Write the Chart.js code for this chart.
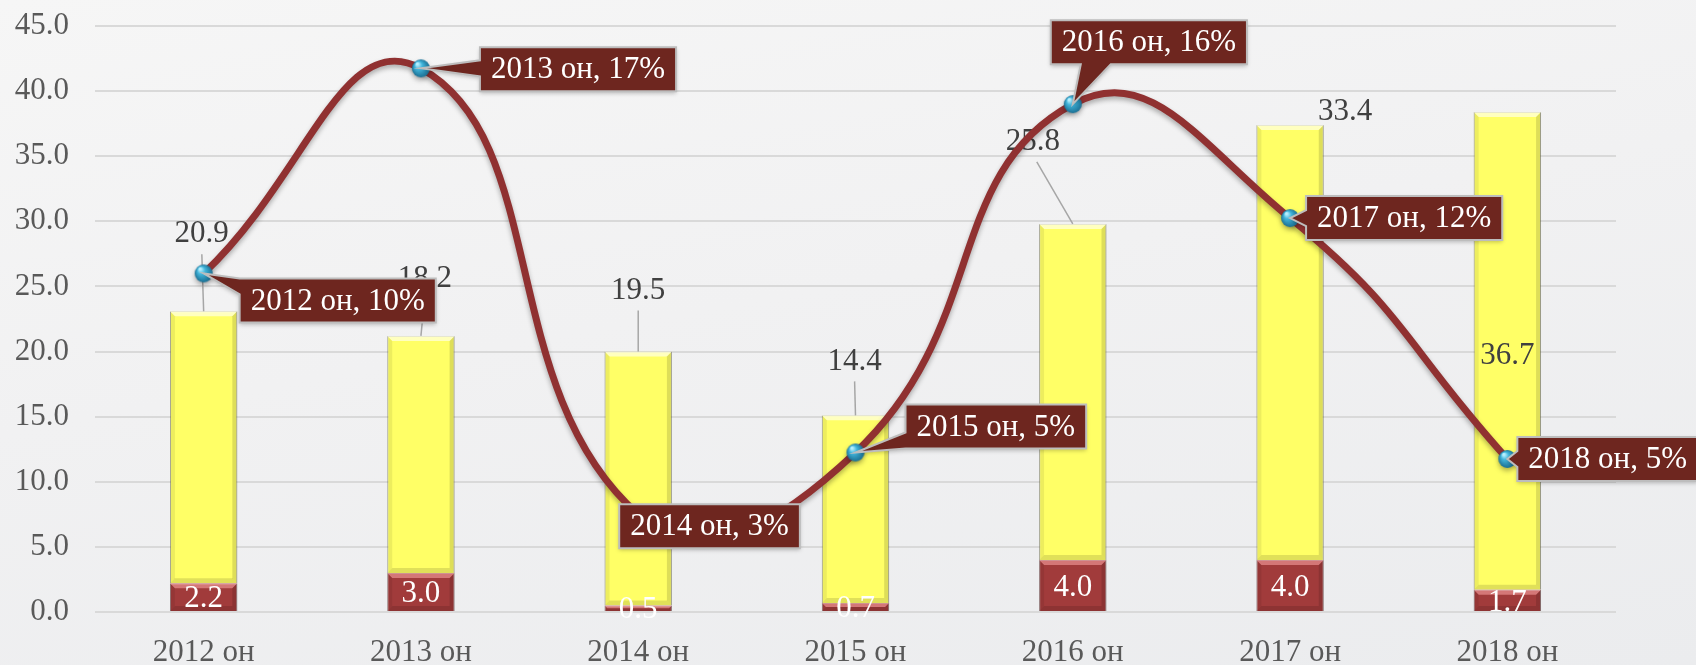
<!DOCTYPE html>
<html>
<head>
<meta charset="utf-8">
<script src="https://cdn.jsdelivr.net/npm/chart.js@4.4.0/dist/chart.umd.min.js"></script>
<style>
    html, body { margin: 0; padding: 0; }
    body {
        width: 1696px; height: 665px; overflow: hidden;
        background: linear-gradient(170deg, #f6f6f6 0%, #f1f1f2 45%, #ebecee 100%);
    }
    #wrap { position: relative; width: 1696px; height: 665px; }
</style>
</head>
<body>
<div id="wrap"><canvas id="chartCanvas" width="1696" height="665"></canvas></div>
<script>
// Data
const years = ['2012 он', '2013 он', '2014 он', '2015 он', '2016 он', '2017 он', '2018 он'];
const baseValues = [2.2, 3.0, 0.5, 0.7, 4.0, 4.0, 1.7];
const topValues = [20.9, 18.2, 19.5, 14.4, 25.8, 33.4, 36.7];
const growthPct = [10.4, 16.7, 3.0, 4.9, 15.6, 12.1, 4.7];
const yTicks = [0, 5, 10, 15, 20, 25, 30, 35, 40, 45];

// label placement (px), not data
const valueLabelOffsets = [[-2, -77], [4, -57], [0, -61], [-1, -54], [-40, -82], [55, -13], [0, 244]];
const calloutOffsets = [[36, 27], [59, 1], [-19, 12], [50, -26], [-22, -62], [16, 0], [10, 0]];

const FONT = "'Liberation Serif', 'Times New Roman', serif";
const FONT_SIZE = 31;

// blue sphere marker
function makeSphere(r) {
    const c = document.createElement('canvas');
    c.width = c.height = r * 2 + 2;
    const g = c.getContext('2d');
    const grad = g.createRadialGradient(r * 0.7, r * 0.6, 1, r + 1, r + 1, r);
    grad.addColorStop(0, '#b8f0ff');
    grad.addColorStop(0.35, '#43b6dc');
    grad.addColorStop(1, '#1a6f93');
    g.fillStyle = grad;
    g.beginPath();
    g.arc(r + 1, r + 1, r, 0, Math.PI * 2);
    g.fill();
    return c;
}

function bevel(ctx, bar, light) {
    const p = bar.getProps(['x', 'y', 'base', 'width'], true);
    const l = p.x - p.width / 2, r = p.x + p.width / 2;
    const t = Math.min(p.y, p.base), b = Math.max(p.y, p.base);
    const e = Math.min(5, (b - t) / 2);
    ctx.save();
    ctx.fillStyle = light;
    ctx.beginPath();
    ctx.moveTo(l, t); ctx.lineTo(r, t); ctx.lineTo(r - e, t + e); ctx.lineTo(l + e, t + e);
    ctx.closePath(); ctx.fill();
    ctx.fillStyle = 'rgba(0,0,0,0.07)';
    ctx.beginPath();
    ctx.moveTo(l, t); ctx.lineTo(l + e, t + e); ctx.lineTo(l + e, b - e); ctx.lineTo(l, b);
    ctx.closePath(); ctx.fill();
    ctx.fillStyle = 'rgba(0,0,0,0.13)';
    ctx.beginPath();
    ctx.moveTo(r, t); ctx.lineTo(r - e, t + e); ctx.lineTo(r - e, b - e); ctx.lineTo(r, b);
    ctx.closePath(); ctx.fill();
    ctx.fillStyle = 'rgba(0,0,0,0.12)';
    ctx.beginPath();
    ctx.moveTo(l, b); ctx.lineTo(l + e, b - e); ctx.lineTo(r - e, b - e); ctx.lineTo(r, b);
    ctx.closePath(); ctx.fill();
    ctx.restore();
}

function drawCallout(ctx, px, py, text, off) {
    ctx.font = FONT_SIZE + 'px ' + FONT;
    const w = ctx.measureText(text).width + 22, h = 44;
    const left = px + off[0], top = py + off[1] - h / 2;
    const right = left + w, bottom = top + h;
    ctx.beginPath();
    if (px < left) {
        const cy = Math.max(top + 8, Math.min(py, bottom - 8));
        ctx.moveTo(left, top); ctx.lineTo(right, top); ctx.lineTo(right, bottom); ctx.lineTo(left, bottom);
        ctx.lineTo(left, cy + 8); ctx.lineTo(px, py); ctx.lineTo(left, cy - 8);
    } else if (py > bottom) {
        const cx = Math.max(left + 12, Math.min(px + 20, right - 12));
        ctx.moveTo(left, top); ctx.lineTo(right, top); ctx.lineTo(right, bottom);
        ctx.lineTo(cx + 18, bottom); ctx.lineTo(px, py); ctx.lineTo(cx - 12, bottom); ctx.lineTo(left, bottom);
    } else {
        ctx.rect(left, top, w, h);
    }
    ctx.closePath();
    ctx.save();
    ctx.shadowColor = 'rgba(0,0,0,0.25)';
    ctx.shadowBlur = 4;
    ctx.shadowOffsetY = 2;
    ctx.fillStyle = '#6e261f';
    ctx.fill();
    ctx.restore();
    ctx.strokeStyle = '#bdbdbd';
    ctx.lineWidth = 2;
    ctx.stroke();
    ctx.fillStyle = '#ffffff';
    ctx.textAlign = 'center';
    ctx.textBaseline = 'middle';
    ctx.fillText(text, left + w / 2, top + h / 2 + 1);
}

const labelPlugin = {
    id: 'labels',
    beforeDatasetDraw(chart, args) {
        if (args.index === 0) {
            chart.ctx.save();
            chart.ctx.shadowColor = 'rgba(0,0,0,0.3)';
            chart.ctx.shadowBlur = 5;
            chart.ctx.shadowOffsetY = 3;
        }
    },
    afterDatasetDraw(chart, args) {
        const ctx = chart.ctx;
        if (args.index === 0) { ctx.restore(); return; }
        const meta = chart.getDatasetMeta(args.index);
        meta.data.forEach(bar => bevel(ctx, bar, args.index === 1 ? 'rgba(255,170,170,0.55)' : 'rgba(255,255,230,0.7)'));
        if (args.index !== 1) return;
        // values on top segment, with leader lines
        const topMeta = chart.getDatasetMeta(2);
        ctx.save();
        ctx.font = FONT_SIZE + 'px ' + FONT;
        ctx.textAlign = 'center';
        ctx.textBaseline = 'middle';
        topMeta.data.forEach((bar, i) => {
            const off = valueLabelOffsets[i];
            const lx = bar.x + off[0], ly = bar.y + off[1];
            if (off[1] < -30) {
                ctx.strokeStyle = '#a6a6a6';
                ctx.lineWidth = 1.5;
                ctx.beginPath();
                ctx.moveTo(lx - off[0] * 0.1, ly + 20);
                ctx.lineTo(bar.x, bar.y);
                ctx.stroke();
            }
            ctx.fillStyle = '#404040';
            ctx.fillText(topValues[i].toFixed(1), lx, ly);
        });
        // values on base segment
        const baseMeta = chart.getDatasetMeta(1);
        ctx.fillStyle = '#ffffff';
        baseMeta.data.forEach((bar, i) => {
            ctx.fillText(baseValues[i].toFixed(1), bar.x, (bar.y + bar.base) / 2 + 2);
        });
        ctx.restore();
    },
    afterDatasetsDraw(chart) {
        const ctx = chart.ctx;
        const meta = chart.getDatasetMeta(0);
        ctx.save();
        meta.data.forEach((pt, i) => {
            drawCallout(ctx, pt.x, pt.y, years[i] + ', ' + Math.round(growthPct[i]) + '%', calloutOffsets[i]);
        });
        ctx.restore();
    }
};

const tickFont = { family: FONT, size: FONT_SIZE };
const ctx = document.getElementById('chartCanvas').getContext('2d');

new Chart(ctx, {
    type: 'bar',
    data: {
        labels: years,
        datasets: [{
            type: 'line',
            label: 'Өсөлт',
            data: growthPct,
            yAxisID: 'y1',
            borderColor: '#903131',
            borderWidth: 7,
            tension: 0.48,
            pointStyle: makeSphere(9),
            pointRadius: 9,
            order: 0
        }, {
            label: 'base',
            data: baseValues,
            backgroundColor: '#a13b3b',
            borderColor: 'rgba(90,40,40,0.6)',
            borderWidth: 1,
            stack: 's',
            order: 1,
            barPercentage: 0.31,
            categoryPercentage: 1
        }, {
            label: 'top',
            data: topValues,
            backgroundColor: '#ffff66',
            borderColor: 'rgba(120,120,80,0.55)',
            borderWidth: 1,
            stack: 's',
            order: 1,
            barPercentage: 0.31,
            categoryPercentage: 1
        }]
    },
    options: {
        responsive: false,
        animation: false,
        layout: { padding: { top: 26, right: 80, left: 0, bottom: 0 } },
        plugins: { legend: { display: false }, tooltip: { enabled: false } },
        scales: {
            x: {
                stacked: true,
                grid: { display: false, drawTicks: false },
                border: { display: false },
                ticks: { color: '#595959', font: tickFont, padding: 22 },
                afterFit: s => { s.height = 53; }
            },
            y: {
                stacked: true,
                min: 0,
                max: 45,
                grid: { color: '#d9d9d9', lineWidth: 2, drawTicks: false },
                border: { display: false },
                ticks: { color: '#595959', font: tickFont, padding: 26, callback: v => v.toFixed(1) },
                afterBuildTicks: s => { s.ticks = yTicks.map(v => ({ value: v })); },
                afterFit: s => { s.width = 95; s.paddingTop = 0; s.paddingBottom = 0; }
            },
            y1: { display: false, min: 0, max: 18 }
        }
    },
    plugins: [labelPlugin]
});
</script>
</body>
</html>
